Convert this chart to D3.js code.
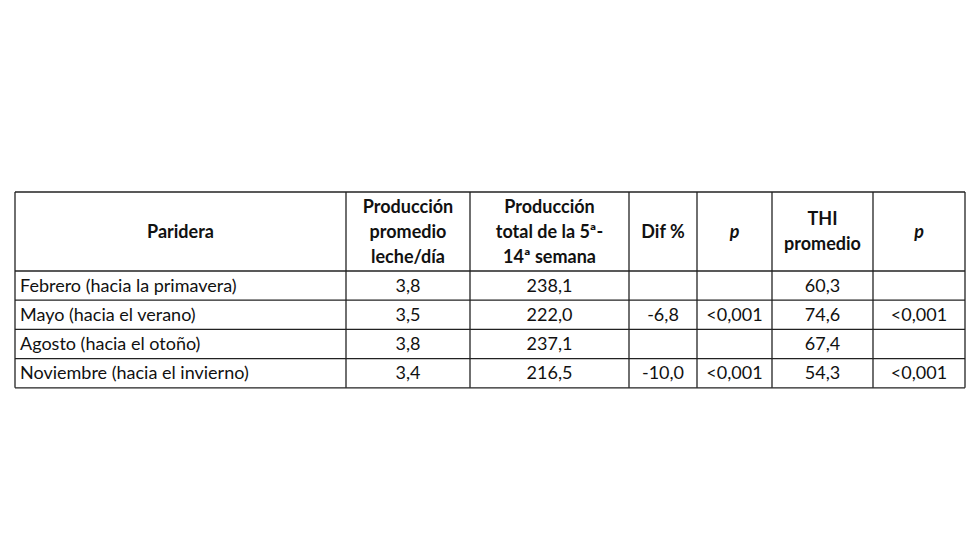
<!DOCTYPE html>
<html><head><meta charset="utf-8">
<script src="https://cdn.jsdelivr.net/npm/d3@7"></script>
<style>body{margin:0;background:#fff}</style></head>
<body><svg id="t" width="980" height="560"></svg>
<script>
// Table data
const headers = [
  ['Paridera'],
  ['Producción', 'promedio', 'leche/día'],
  ['Producción', 'total de la 5ª-', '14ª semana'],
  ['Dif %'],
  ['p'],
  ['THI', 'promedio'],
  ['p']
];
const paridera = ['Febrero (hacia la primavera)', 'Mayo (hacia el verano)', 'Agosto (hacia el otoño)', 'Noviembre (hacia el invierno)'];
const promedio = ['3,8', '3,5', '3,8', '3,4'];
const total = ['238,1', '222,0', '237,1', '216,5'];
const dif = ['', '-6,8', '', '-10,0'];
const p1 = ['', '<0,001', '', '<0,001'];
const thi = ['60,3', '74,6', '67,4', '54,3'];
const p2 = ['', '<0,001', '', '<0,001'];

const colEdges = [15, 346, 470, 629, 697, 772, 873, 965];
const tableTop = 192, headBottom = 271, rowH = 29.2;

const svg = d3.select('#t');
const font = 'Lato, "Open Sans", sans-serif';
const y = d3.scaleLinear().domain([0, paridera.length]).range([headBottom, headBottom + rowH * paridera.length]);
const cols = [paridera, promedio, total, dif, p1, thi, p2];

// grid lines
const g = svg.append('g').attr('stroke', '#222').attr('stroke-width', 1.3);
colEdges.forEach(x => g.append('line').attr('x1', x).attr('x2', x).attr('y1', tableTop).attr('y2', y(paridera.length)));
[tableTop, ...d3.range(paridera.length + 1).map(y)].forEach(v =>
  g.append('line').attr('x1', colEdges[0]).attr('x2', colEdges[7]).attr('y1', v).attr('y2', v));

// headers
headers.forEach((lines, c) => {
  const cx = (colEdges[c] + colEdges[c + 1]) / 2;
  const mid = (tableTop + headBottom) / 2;
  const t = svg.append('text').attr('x', cx).attr('text-anchor', 'middle')
    .attr('font-family', font).attr('font-size', 18).attr('font-weight', 'bold').attr('fill', '#111')
    .attr('font-style', lines[0] === 'p' ? 'italic' : 'normal');
  lines.forEach((l, i) => t.append('tspan').attr('x', cx)
    .attr('y', mid + 6 + (i - (lines.length - 1) / 2) * 25).text(l));
});

// body
cols.forEach((vals, c) => {
  svg.selectAll(null).data(vals).enter().append('text')
    .attr('x', c === 0 ? colEdges[0] + 5 : (colEdges[c] + colEdges[c + 1]) / 2)
    .attr('y', (d, i) => y(i) + rowH / 2 + 6)
    .attr('text-anchor', c === 0 ? 'start' : 'middle')
    .attr('font-family', font).attr('font-size', 18).attr('fill', '#111')
    .text(d => d);
});
</script></body></html>
